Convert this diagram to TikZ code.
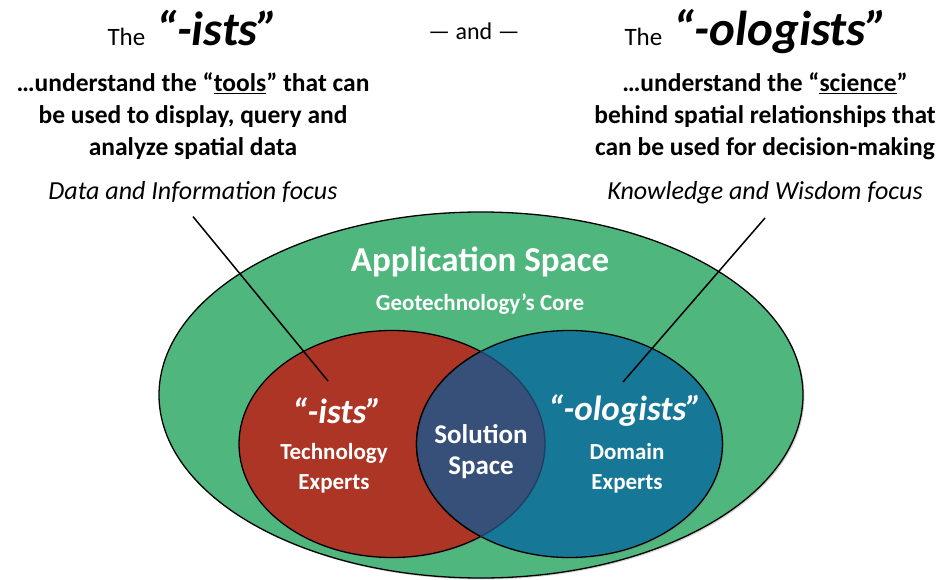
\documentclass[tikz,border=0pt]{standalone}
\usepackage{fontspec}
\setmainfont{Carlito}
\usetikzlibrary{shadows}
\definecolor{appgreen}{HTML}{4FB77E}
\definecolor{istred}{HTML}{AD3526}
\definecolor{ologblue}{HTML}{177796}
\definecolor{solnavy}{HTML}{36507A}
\definecolor{edgenavy}{HTML}{1E3F63}

\begin{document}
\begin{tikzpicture}[x=1pt,y=-1pt,
    venn/.style={draw=black,line width=1.3pt},
    shade/.style={drop shadow={opacity=0.35,shadow xshift=1.5pt,shadow yshift=-1.5pt}},
    pointer/.style={draw=black,line width=1.5pt},
    intro/.style={font=\fontsize{25.5}{32}\selectfont\bfseries,align=center},
    focus/.style={font=\fontsize{26}{30}\selectfont\itshape},
    inner/.style={text=white,font=\fontsize{23}{30}\selectfont\bfseries,align=center}]
    \useasboundingbox (0,0) rectangle (947,580);

    % Application space
    \draw[venn,fill=appgreen,shade] (481,395) ellipse (322 and 183);

    % Two expert groups
    \draw[venn,fill=istred,shade] (392,444) ellipse (153 and 113.5);
    \draw[venn,fill=ologblue,shade] (569.5,444) ellipse (153 and 113.5);

    % Overlap
    \begin{scope}
        \clip (392,444) ellipse (153 and 113.5);
        \fill[solnavy] (569.5,444) ellipse (153 and 113.5);
        \draw[venn] (569.5,444) ellipse (153 and 113.5);
    \end{scope}
    \begin{scope}
        \clip (569.5,444) ellipse (153 and 113.5);
        \draw[edgenavy,line width=1.3pt] (392,444) ellipse (153 and 113.5);
    \end{scope}

    % Headings
    \node[anchor=base] (isthead) at (193,46) {{\fontsize{25}{30}\selectfont The}\hspace{11pt}{\fontsize{48}{52}\selectfont\bfseries\itshape “-ists”}};
    \node[anchor=base,font=\fontsize{24}{30}\selectfont] (andword) at (474,40) {— and —};
    \node[anchor=base] (ologhead) at (756,46) {{\fontsize{25}{30}\selectfont The}\hspace{11pt}{\fontsize{49}{52}\selectfont\bfseries\itshape “-ologists”}};

    \node[intro] (istdesc) at (193,116) {…understand the “\underline{tools}” that can\\be used to display, query and\\analyze spatial data};
    \node[intro] (ologdesc) at (765,116) {…understand the “\underline{science}”\\behind spatial relationships that\\can be used for decision-making};

    \node[focus,anchor=base] (dataf) at (193,200) {Data and Information focus};
    \node[focus,anchor=base] (knowf) at (765,200) {Knowledge and Wisdom focus};

    % Pointers
    \coordinate (istend) at (328,381);
    \coordinate (ologend) at (623,382);
    \draw[pointer] ([yshift=-10pt]dataf.south) -- (istend);
    \draw[pointer] ([yshift=-10pt]knowf.south) -- (ologend);

    % Labels inside
    \node[inner,font=\fontsize{35}{40}\selectfont\bfseries] (appspace) at (480,262) {Application Space};
    \node[inner] (core) at (480,304) {Geotechnology’s Core};
    \node[inner,font=\fontsize{35}{40}\selectfont\bfseries\itshape] (istlabel) at (337,411) {“-ists”};
    \node[inner] (techexp) at (334,468) {Technology\\Experts};
    \node[inner,font=\fontsize{27}{31}\selectfont\bfseries] (solspace) at (481,452) {Solution\\Space};
    \node[inner,font=\fontsize{35}{40}\selectfont\bfseries\itshape] (ologlabel) at (625,411) {“-ologists”};
    \node[inner] (domexp) at (627,468) {Domain\\Experts};
\end{tikzpicture}
\end{document}
